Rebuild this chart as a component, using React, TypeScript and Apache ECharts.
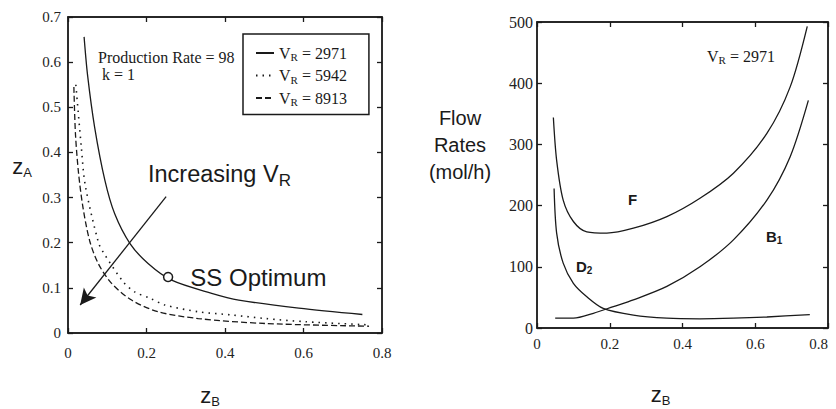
import React, { useEffect, useRef } from "react";
import * as echarts from "echarts";

// Left chart: z_A vs z_B for three reactor volumes
const zB_2971 = [0.041, 0.05, 0.068, 0.094, 0.119, 0.158, 0.204, 0.264, 0.366, 0.435, 0.588, 0.75];
const zA_2971 = [0.656, 0.57, 0.455, 0.338, 0.264, 0.198, 0.154, 0.117, 0.088, 0.073, 0.055, 0.041];
const zB_5942 = [0.02, 0.034, 0.044, 0.077, 0.089, 0.141, 0.17, 0.209, 0.247, 0.332, 0.417, 0.503, 0.605, 0.767];
const zA_5942 = [0.55, 0.411, 0.327, 0.202, 0.18, 0.113, 0.091, 0.077, 0.062, 0.047, 0.04, 0.032, 0.025, 0.018];
const zB_8913 = [0.015, 0.019, 0.027, 0.038, 0.055, 0.077, 0.111, 0.162, 0.23, 0.332, 0.503, 0.767];
const zA_8913 = [0.545, 0.441, 0.353, 0.279, 0.205, 0.154, 0.11, 0.073, 0.047, 0.032, 0.021, 0.015];
const seriesNamesLeft = ["VR = 2971", "VR = 5942", "VR = 8913"];
const optimumPoint = [0.255, 0.124];
const arrowStart = [0.25, 0.302];
const arrowEnd = [0.031, 0.062];

// Right chart: flow rates vs z_B for V_R = 2971
const zB_F = [0.045, 0.054, 0.072, 0.1, 0.137, 0.192, 0.265, 0.357, 0.448, 0.54, 0.632, 0.696, 0.743];
const flowF = [344, 274, 209, 174, 157, 155, 163, 182, 212, 253, 318, 394, 493];
const zB_D2 = [0.047, 0.054, 0.072, 0.1, 0.137, 0.182, 0.265, 0.357, 0.448, 0.54, 0.632, 0.75];
const flowD2 = [228, 155, 106, 73, 51, 32, 21, 16, 15, 16, 18, 22];
const zB_B1 = [0.05, 0.1, 0.155, 0.21, 0.265, 0.357, 0.448, 0.54, 0.632, 0.696, 0.746];
const flowB1 = [16, 16, 24, 35, 46, 68, 100, 144, 209, 280, 372];

const xTicksMax = 0.8;
const xInterval = 0.2;

const SERIF = "'Liberation Serif', 'Times New Roman', serif";
const SANS = "'Liberation Sans', Arial, sans-serif";
const INK = "#1a1a1a";

const zip = (xs: number[], ys: number[]) => xs.map((x, i) => [x, ys[i]]);

export default function App() {
  const ref = useRef<HTMLDivElement>(null);
  useEffect(() => {
    if (!ref.current) return;
    const chart = echarts.init(ref.current, undefined, { renderer: "svg" });
    const tickLabel = { fontFamily: SERIF, fontSize: 15, color: "#222" };
    const fmt = (v: number) => (v === 0 ? "0" : v.toFixed(1));
    const mirror = (extra: any) => ({
      type: "value",
      show: true,
      axisLine: { show: true, onZero: false, lineStyle: { color: INK, width: 1.5 } },
      axisTick: { show: true, inside: true, length: 5, lineStyle: { color: INK, width: 1.3 } },
      axisLabel: { show: false },
      splitLine: { show: false },
      ...extra,
    });
    const lineBase = { type: "line", showSymbol: false, symbol: "none", smooth: 0.3, z: 3 };
    const subRich = {
      z: { fontFamily: SANS, fontSize: 22, color: INK },
      s: { fontFamily: SANS, fontSize: 13, color: INK, padding: [12, 0, 0, 0] },
    };
    const gridBase = {
      show: true,
      borderColor: INK,
      borderWidth: 1.3,
      containLabel: false,
      outerBoundsMode: "none",
    };
    const option: any = {
      animation: false,
      backgroundColor: "#fff",
      grid: [
        { ...gridBase, left: 68, top: 17, width: 314, height: 316 },
        { ...gridBase, left: 537, top: 22, width: 291, height: 306 },
      ],
      xAxis: [
        mirror({
          gridIndex: 0, position: "bottom", min: 0, max: xTicksMax, interval: xInterval,
          axisLabel: { show: true, ...tickLabel, formatter: fmt, margin: 12 },
          name: "{z|z}{s|B}",
          nameLocation: "middle",
          nameGap: 50,
          nameTextStyle: { rich: subRich, padding: [0, 30, 0, 0] },
        }),
        mirror({ gridIndex: 0, position: "top", min: 0, max: xTicksMax, interval: xInterval }),
        mirror({
          gridIndex: 1, position: "bottom", min: 0, max: xTicksMax, interval: xInterval,
          axisLabel: { show: true, ...tickLabel, formatter: fmt, margin: 8, alignMaxLabel: "right" },
          name: "{z|z}{s|B}",
          nameLocation: "middle",
          nameGap: 54,
          nameTextStyle: { rich: subRich, padding: [0, 44, 0, 0] },
        }),
        mirror({ gridIndex: 1, position: "top", min: 0, max: xTicksMax, interval: xInterval }),
      ],
      yAxis: [
        mirror({
          gridIndex: 0, position: "left", min: 0, max: 0.7, interval: 0.1,
          axisLabel: { show: true, ...tickLabel, formatter: fmt, margin: 7 },
          name: "{z|z}{s|A}",
          nameLocation: "middle",
          nameRotate: 0,
          nameGap: 36,
          nameTextStyle: { rich: subRich, padding: [0, 0, 18, 0] },
        }),
        mirror({ gridIndex: 0, position: "right", min: 0, max: 0.7, interval: 0.1 }),
        mirror({
          gridIndex: 1, position: "left", min: 0, max: 500, interval: 100,
          axisLabel: { show: true, ...tickLabel, fontSize: 16, margin: 4 },
        }),
        mirror({ gridIndex: 1, position: "right", min: 0, max: 500, interval: 100 }),
      ],
      legend: {
        data: seriesNamesLeft,
        orient: "vertical",
        left: 243,
        top: 34,
        padding: [11, 22, 7, 12],
        itemGap: 5,
        itemWidth: 18,
        itemHeight: 10,
        borderColor: INK,
        borderWidth: 1.5,
        backgroundColor: "#fff",
        itemStyle: { opacity: 0 },
        formatter: (name: string) => `{v|V}{r|R}{v|${name.slice(2)}}`,
        textStyle: {
          rich: {
            v: { fontFamily: SERIF, fontSize: 16, color: INK },
            r: { fontFamily: SERIF, fontSize: 11, color: INK, padding: [8, 0, 0, 0] },
          },
        },
      },
      series: [
        {
          ...lineBase, name: seriesNamesLeft[0], xAxisIndex: 0, yAxisIndex: 0,
          data: zip(zB_2971, zA_2971),
          lineStyle: { color: INK, width: 1.3, type: "solid" },
          itemStyle: { color: INK },
        },
        {
          ...lineBase, name: seriesNamesLeft[1], xAxisIndex: 0, yAxisIndex: 0,
          data: zip(zB_5942, zA_5942),
          lineStyle: { color: INK, width: 1.6, type: [1.5, 5] },
          itemStyle: { color: INK },
        },
        {
          ...lineBase, name: seriesNamesLeft[2], xAxisIndex: 0, yAxisIndex: 0,
          data: zip(zB_8913, zA_8913),
          lineStyle: { color: INK, width: 1.3, type: [6, 3] },
          itemStyle: { color: INK },
          markLine: {
            silent: true,
            symbol: ["none", "arrow"],
            symbolSize: [12, 16],
            label: { show: false },
            lineStyle: { color: INK, width: 1.3, type: "solid" },
            data: [[{ coord: arrowStart }, { coord: arrowEnd }]],
          },
        },
        {
          type: "scatter", name: "SS Optimum", xAxisIndex: 0, yAxisIndex: 0,
          data: [optimumPoint],
          symbol: "circle",
          symbolSize: 9,
          itemStyle: { color: "#fff", borderColor: INK, borderWidth: 1.5, opacity: 1 },
          label: {
            show: true, position: "right", distance: 17, formatter: "SS Optimum",
            fontFamily: SANS, fontSize: 24, color: INK, opacity: 1,
          },
          z: 5,
        },
        {
          ...lineBase, name: "F", xAxisIndex: 2, yAxisIndex: 2,
          data: zip(zB_F, flowF),
          lineStyle: { color: INK, width: 1.3 },
        },
        {
          ...lineBase, name: "D2", xAxisIndex: 2, yAxisIndex: 2,
          data: zip(zB_D2, flowD2),
          lineStyle: { color: INK, width: 1.3 },
        },
        {
          ...lineBase, name: "B1", xAxisIndex: 2, yAxisIndex: 2,
          data: zip(zB_B1, flowB1),
          lineStyle: { color: INK, width: 1.3 },
        },
      ],
      graphic: [
        {
          type: "text", left: 98, top: 49,
          style: { text: "Production Rate = 98", font: `16px ${SERIF}`, fill: INK },
        },
        {
          type: "text", left: 102, top: 66,
          style: { text: "k = 1", font: `16px ${SERIF}`, fill: INK },
        },
        {
          type: "text", left: 148, top: 162,
          style: {
            text: "{a|Increasing V}{b|R}",
            rich: {
              a: { fontFamily: SANS, fontSize: 23.5, fill: INK },
              b: { fontFamily: SANS, fontSize: 17, fill: INK, padding: [13, 0, 0, 0] },
            },
          },
        },
        {
          type: "text", x: 460, y: 145,
          style: {
            text: "Flow\nRates\n(mol/h)",
            font: `20px ${SANS}`,
            lineHeight: 27,
            fill: INK,
            align: "center",
            verticalAlign: "middle",
          },
        },
        {
          type: "text", left: 707, top: 48,
          style: {
            text: "{a|V}{b|R}{a| = 2971}",
            rich: {
              a: { fontFamily: SERIF, fontSize: 16, fill: INK },
              b: { fontFamily: SERIF, fontSize: 11, fill: INK, padding: [8, 0, 0, 0] },
            },
          },
        },
        {
          type: "text", left: 628, top: 192,
          style: { text: "F", font: `bold 15px ${SANS}`, fill: INK },
        },
        {
          type: "text", left: 576, top: 259,
          style: {
            text: "{a|D}{b|2}",
            rich: {
              a: { fontFamily: SANS, fontSize: 15, fontWeight: "bold", fill: INK },
              b: { fontFamily: SANS, fontSize: 10, fontWeight: "bold", fill: INK, padding: [7, 0, 0, 0] },
            },
          },
        },
        {
          type: "text", left: 766, top: 229,
          style: {
            text: "{a|B}{b|1}",
            rich: {
              a: { fontFamily: SANS, fontSize: 15, fontWeight: "bold", fill: INK },
              b: { fontFamily: SANS, fontSize: 10, fontWeight: "bold", fill: INK, padding: [7, 0, 0, 0] },
            },
          },
        },
      ],
    };
    chart.setOption(option);
    return () => chart.dispose();
  }, []);
  return <div ref={ref} style={{ width: 836, height: 409, position: "absolute", left: 0, top: 0 }} />;
}
